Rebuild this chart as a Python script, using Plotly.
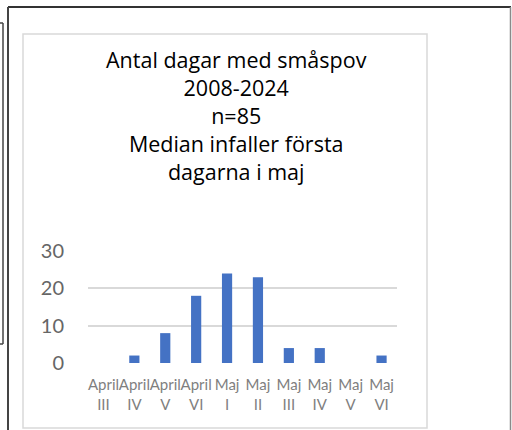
import plotly.graph_objects as go

categories = ["April<br>III", "April<br>IV", "April<br>V", "April<br>VI", "Maj<br>I",
              "Maj<br>II", "Maj<br>III", "Maj<br>IV", "Maj<br>V", "Maj<br>VI"]
values = [0, 2, 8, 18, 24, 23, 4, 4, 0, 2]
y_ticks = [0, 10, 20, 30]
title_lines = ["Antal dagar med småspov", "2008-2024", "n=85", "Median infaller första", "dagarna i maj"]

W, H = 512, 430
def px(x):
    return x / W
def py(y):
    return 1 - y / H

fig = go.Figure(go.Bar(x=categories, y=values, marker=dict(color="#4472C4", line=dict(width=0))))

shapes = [
    # outer frame
    dict(type="line", x0=px(8), x1=px(511), y0=py(7), y1=py(7), line=dict(color="#333333", width=2)),
    dict(type="line", x0=px(8), x1=px(8), y0=py(7), y1=py(432), line=dict(color="#444444", width=2)),
    dict(type="line", x0=px(510.5), x1=px(510.5), y0=py(7), y1=py(432), line=dict(color="#8a8a8a", width=1.5)),
    # left bracket
    dict(type="line", x0=px(3), x1=px(3), y0=py(23), y1=py(344), line=dict(color="#444444", width=1.5)),
    dict(type="line", x0=px(0), x1=px(3), y0=py(23), y1=py(23), line=dict(color="#444444", width=1.5)),
    dict(type="line", x0=px(0), x1=px(3), y0=py(344), y1=py(344), line=dict(color="#444444", width=1.5)),
    # inner chart box
    dict(type="rect", x0=px(23), x1=px(427), y0=py(34), y1=py(428), line=dict(color="#d9d9d9", width=1.5)),
]
for s in shapes:
    s["xref"] = "paper"
    s["yref"] = "paper"
    s["layer"] = "above" if s["type"] == "line" else "below"

fig.update_layout(
    width=W, height=H,
    margin=dict(l=0, r=0, t=0, b=0, pad=0, autoexpand=False),
    paper_bgcolor="white", plot_bgcolor="white",
    showlegend=False,
    bargap=0.67,
    shapes=shapes,
    annotations=[dict(
        text="<br>".join(title_lines), x=px(236), y=py(115), xref="paper", yref="paper",
        xanchor="center", yanchor="middle", showarrow=False, align="center",
        font=dict(family="Open Sans", size=21.5, color="#000000"),
    )],
    xaxis=dict(
        domain=[px(88), px(397)], automargin=False,
        tickfont=dict(family="Lato", size=15, color="#7f7f7f"),
        showgrid=False, showline=False, zeroline=False, ticks="",
        ticklabelstandoff=11, tickangle=0,
    ),
    yaxis=dict(
        domain=[py(363), py(251)], automargin=False,
        range=[0, 30], tickvals=y_ticks,
        tickfont=dict(family="Lato", size=20, color="#666666"),
        showgrid=True, gridcolor="#d9d9d9", gridwidth=1.5,
        zeroline=False, showline=False, ticks="",
        ticklabelstandoff=23,
    ),
)

fig.write_html("out.html", config={"displayModeBar": False},
               post_script="document.body.style.margin='0';document.body.style.overflow='hidden';")
